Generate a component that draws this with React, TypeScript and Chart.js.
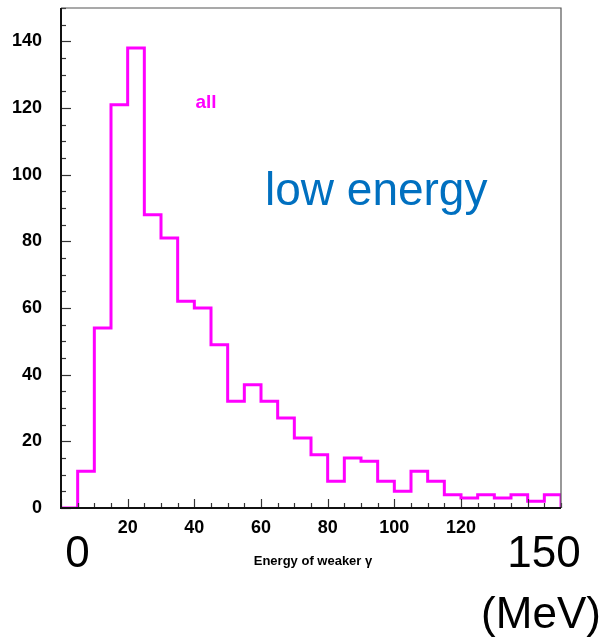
import React, { useEffect, useRef } from "react";
import { Chart, registerables } from "chart.js";

Chart.register(...registerables);

// Histogram bin edges (MeV) and counts per bin (5 MeV wide)
const binEdges: number[] = [
  0, 5, 10, 15, 20, 25, 30, 35, 40, 45, 50, 55, 60, 65, 70, 75, 80, 85, 90, 95,
  100, 105, 110, 115, 120, 125, 130, 135, 140, 145, 150,
];
const counts: number[] = [
  0, 11, 54, 121, 138, 88, 81, 62, 60, 49, 32, 37, 32, 27, 21, 16, 8, 15, 14, 8,
  5, 11, 8, 4, 3, 4, 3, 4, 2, 4,
];
const xLabelValues: number[] = [20, 40, 60, 80, 100, 120];
const yLabelValues: number[] = [0, 20, 40, 60, 80, 100, 120, 140];

const FONT = "'Liberation Sans', Arial, Helvetica, sans-serif";

const decorPlugin = {
  id: "decor",
  afterDraw(chart: any) {
    const { ctx, chartArea, scales } = chart;
    const xs = scales.x;
    const ys = scales.y;
    ctx.save();
    // inner ticks
    ctx.strokeStyle = "#333";
    ctx.lineWidth = 1.2;
    for (let v = 0; v <= 150; v += 5) {
      const major = v % 20 === 0;
      const len = major ? 10 : 5;
      const py = Math.round(ys.getPixelForValue(v)) + 0.5;
      ctx.beginPath();
      ctx.moveTo(chartArea.left, py);
      ctx.lineTo(chartArea.left + len, py);
      ctx.stroke();
      const px = Math.round(xs.getPixelForValue(v)) + 0.5;
      ctx.beginPath();
      ctx.moveTo(px, chartArea.bottom);
      ctx.lineTo(px, chartArea.bottom - (major ? 9 : 5));
      ctx.stroke();
    }
    // frame
    ctx.strokeStyle = "#555";
    ctx.lineWidth = 1.2;
    ctx.beginPath();
    ctx.moveTo(chartArea.left, chartArea.top);
    ctx.lineTo(chartArea.right, chartArea.top);
    ctx.lineTo(chartArea.right, chartArea.bottom);
    ctx.stroke();
    ctx.strokeStyle = "#111";
    ctx.lineWidth = 2;
    ctx.beginPath();
    ctx.moveTo(chartArea.left, chartArea.top);
    ctx.lineTo(chartArea.left, chartArea.bottom);
    ctx.lineTo(chartArea.right, chartArea.bottom);
    ctx.stroke();

    // annotations
    ctx.textBaseline = "alphabetic";
    ctx.fillStyle = "#ff00ff";
    ctx.font = `bold 19px ${FONT}`;
    ctx.textAlign = "center";
    ctx.fillText("all", xs.getPixelForValue(43.5), ys.getPixelForValue(120));

    ctx.fillStyle = "#0070c0";
    ctx.font = `46px ${FONT}`;
    ctx.textAlign = "left";
    ctx.fillText("low energy", xs.getPixelForValue(61.2), ys.getPixelForValue(90.8));

    ctx.fillStyle = "#000";
    ctx.font = `44px ${FONT}`;
    ctx.textAlign = "center";
    ctx.fillText("0", 77.5, 567);
    ctx.fillText("150", 544, 567);
    ctx.fillText("(MeV)", 541, 628);

    ctx.font = `bold 13px ${FONT}`;
    ctx.fillText("Energy of weaker \u03b3", 313, 565);
    ctx.restore();
  },
};

export default function App() {
  const canvasRef = useRef<HTMLCanvasElement | null>(null);

  useEffect(() => {
    if (!canvasRef.current) return;
    const points = binEdges.map((e, i) => ({
      x: e,
      y: i < counts.length ? counts[i] : 0,
    }));
    const chart = new Chart(canvasRef.current, {
      type: "line",
      data: {
        datasets: [
          {
            label: "all",
            data: points,
            stepped: "before",
            borderColor: "#ff00ff",
            borderWidth: 3,
            pointRadius: 0,
            fill: false,
          },
        ],
      },
      options: {
        responsive: false,
        animation: false,
        layout: { padding: { top: 8, right: 42, left: 0, bottom: 0 } },
        plugins: {
          legend: { display: false },
          tooltip: { enabled: false },
        },
        scales: {
          x: {
            type: "linear",
            min: 0,
            max: 150,
            grid: { display: false, drawTicks: false },
            border: { display: false },
            ticks: {
              stepSize: 20,
              autoSkip: false,
              maxRotation: 0,
              padding: 9,
              color: "#000",
              font: { family: FONT, size: 18, weight: "bold" },
              callback: (v: any) => (xLabelValues.includes(Number(v)) ? String(v) : ""),
            },
            afterFit: (s: any) => {
              s.height = 132;
              s.paddingLeft = 0;
              s.paddingRight = 0;
            },
          },
          y: {
            type: "linear",
            min: 0,
            max: 150,
            grid: { display: false, drawTicks: false },
            border: { display: false },
            ticks: {
              stepSize: 20,
              autoSkip: false,
              padding: 19,
              color: "#000",
              font: { family: FONT, size: 18, weight: "bold" },
              callback: (v: any) => (yLabelValues.includes(Number(v)) ? String(v) : ""),
            },
            afterFit: (s: any) => {
              s.width = 61;
              s.paddingTop = 0;
              s.paddingBottom = 0;
            },
          },
        },
      },
      plugins: [decorPlugin],
    } as any);
    return () => chart.destroy();
  }, []);

  return (
    <div style={{ position: "fixed", left: 0, top: 0, width: 603, height: 640, background: "#fff" }}>
      <canvas ref={canvasRef} width={603} height={640} />
    </div>
  );
}
